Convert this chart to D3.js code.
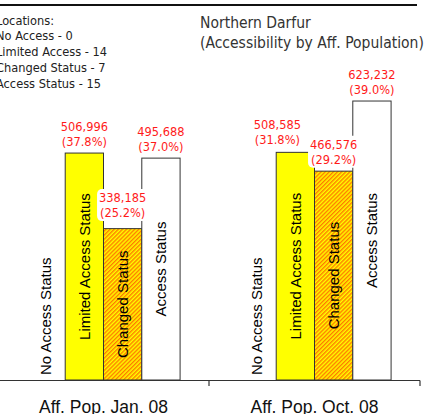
<!DOCTYPE html>
<html><head><meta charset="utf-8">
<script src="https://cdn.jsdelivr.net/npm/d3@7"></script>
<style>body{margin:0;background:#fff;}svg{display:block;}</style>
</head><body>
<script>
const periods = ["Aff. Pop. Jan. 08", "Aff. Pop. Oct. 08"];
const statuses = ["No Access Status", "Limited Access Status", "Changed Status", "Access Status"];
const janValues = [0, 506996, 338185, 495688];
const octValues = [0, 508585, 466576, 623232];
const janPct = ["", "37.8%", "25.2%", "37.0%"];
const octPct = ["", "31.8%", "29.2%", "39.0%"];
const legendLines = ["Locations:", "No Access - 0", "Limited Access - 14", "Changed Status - 7", "Access Status - 15"];
const titleLines = ["Northern Darfur", "(Accessibility by Aff. Population)"];

const W = 427, H = 414;
const svg = d3.select("body").append("svg").attr("width", W).attr("height", H);
const defs = svg.append("defs");
const pat = defs.append("pattern").attr("id","hatch").attr("patternUnits","userSpaceOnUse")
  .attr("width",2.9).attr("height",2.9).attr("patternTransform","rotate(45)");
pat.append("rect").attr("width",2.9).attr("height",2.9).attr("fill","#FFFF00");
pat.append("rect").attr("width",1.4).attr("height",2.9).attr("fill","#FF7A00");

const fills = ["#ffffff", "#FFFF00", "url(#hatch)", "#ffffff"];
const tFont = "'DejaVu Sans Condensed', 'DejaVu Sans', sans-serif";
const aFont = "'Liberation Sans', Arial, sans-serif";

const x0 = d3.scaleBand().domain(periods).range([-2, 420]);
const x1 = d3.scaleBand().domain(statuses).range([0, x0.bandwidth()]).paddingOuter(0.755);
const y = d3.scaleLinear().domain([0, 840000]).range([380, 4]);

// top frame line
svg.append("line").attr("x1",0).attr("x2",417).attr("y1",5).attr("y2",5).attr("stroke","#111").attr("stroke-width",2);

const data = [janValues, octValues].map((vals, gi) => vals.map((v, i) => ({
  period: periods[gi], status: statuses[i], value: v, pct: gi===0 ? janPct[i] : octPct[i], i
})));

const nudge = {"1-1": [-18, -1], "0-2": [0, -4]};

const g = svg.selectAll("g.grp").data(data).join("g").attr("class","grp")
  .attr("transform", (d,gi) => `translate(${x0(periods[gi])},0)`);

g.selectAll("rect.bar").data(d => d.filter(e => e.value > 0)).join("rect").attr("class","bar")
  .attr("x", d => x1(d.status)).attr("width", x1.bandwidth())
  .attr("y", d => y(d.value)).attr("height", d => y(0) - y(d.value))
  .attr("fill", d => fills[d.i]).attr("stroke", "#333").attr("stroke-width", 1);

// rotated labels in bars
const short = d => (y(0) - y(d.value)) < 160;
g.selectAll("text.cat").data(d => d).join("text").attr("class","cat")
  .attr("font-family", aFont).attr("font-size", 15).attr("fill","#000")
  .attr("transform", d => {
    const cx = x1(d.status) + x1.bandwidth()/2 + 5.4;
    const cy = (d.value === 0) ? y(0) - 5 : (y(0) + y(d.value))/2;
    return `translate(${cx},${cy}) rotate(-90)`;
  })
  .attr("text-anchor", d => d.value === 0 ? "start" : "middle")
  .text(d => d.status);

// value labels
data.forEach((grp, gi) => {
  grp.filter(d => d.value > 0).forEach(d => {
    const nd = nudge[gi + "-" + d.i] || [0,0];
    const cx = x0(d.period) + x1(d.status) + x1.bandwidth()/2 + nd[0];
    const top = y(d.value) + nd[1];
    const lg = svg.append("g");
    const bg = lg.append("rect").attr("fill","#fff").attr("rx",5);
    const t = lg.append("text").attr("font-family", tFont).attr("font-size", 12.7).attr("fill","#FF1A1A").attr("text-anchor","middle");
    t.append("tspan").attr("x", cx).attr("y", top - 22.5).text(d3.format(",")(d.value));
    t.append("tspan").attr("x", cx).attr("y", top - 7.5).text("(" + d.pct + ")");
    const bb = t.node().getBBox();
    bg.attr("x", bb.x - 2).attr("y", bb.y - 1).attr("width", bb.width + 4).attr("height", bb.height + 2);
  });
});

// axis
const ax = svg.append("g").attr("stroke","#333").attr("stroke-width",1.2);
ax.append("line").attr("x1", x0.range()[0]).attr("x2", x0.range()[1]).attr("y1", 380.5).attr("y2", 380.5);
const bounds = periods.map(p => x0(p)).concat([x0.range()[1]]);
ax.selectAll("line.tk").data(bounds).join("line").attr("class","tk")
  .attr("x1", d => d).attr("x2", d => d).attr("y1", 380.5).attr("y2", 386);

svg.selectAll("text.per").data(periods).join("text").attr("class","per")
  .attr("x", d => x0(d) + x0.bandwidth()/2).attr("y", 413)
  .attr("text-anchor","middle").attr("font-family", aFont).attr("font-size", 17.5).attr("fill","#111")
  .text(d => d);

// legend text
svg.append("text").attr("font-family", tFont).attr("font-size", 12.7).attr("fill","#222")
  .selectAll("tspan").data(legendLines).join("tspan")
  .attr("x", -4).attr("y", (d,i) => 24.5 + i*15.8).text(d => d);

// title
svg.append("text").attr("font-family", tFont).attr("font-size", 15.5).attr("fill","#333")
  .selectAll("tspan").data(titleLines).join("tspan")
  .attr("x", 200).attr("y", (d,i) => 28 + i*20).text(d => d);
</script>
</body></html>
